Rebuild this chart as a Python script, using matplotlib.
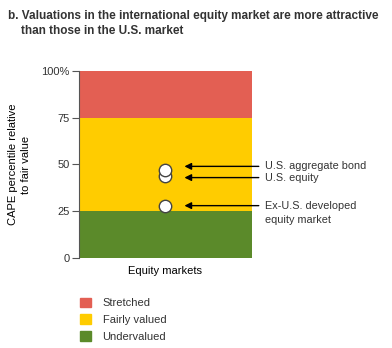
import matplotlib.pyplot as plt
from matplotlib.patches import Patch

plt.rcParams['font.family'] = ['Liberation Sans', 'DejaVu Sans']
plt.rcParams['text.color'] = '#333333'

# Valuation bands (percentile ranges)
bands = ['Undervalued', 'Fairly valued', 'Stretched']
band_lo = [0, 25, 75]
band_hi = [25, 75, 100]
band_colors = ['#5B8A2A', '#FFCC00', '#E35F53']

# Market CAPE percentiles
markets = ['U.S. equity', 'U.S. aggregate bond', 'Ex-U.S. developed\nequity market']
percentiles = [44, 47, 28]
label_y = [43, 49, 28]

yticks = [0, 25, 50, 75, 100]
ytick_labels = ['0', '25', '50', '75', '100%']

fig = plt.figure(figsize=(3.92, 3.48), dpi=100)
ax = fig.add_axes([0.2015, 0.2586, 0.441, 0.5374])

for lo, hi, c in zip(band_lo, band_hi, band_colors):
    ax.axhspan(lo, hi, color=c, lw=0)

ax.scatter([0.5] * len(percentiles), percentiles, s=80, facecolor='white',
           edgecolor='#444444', linewidth=1.0, zorder=3)

for name, ly in zip(markets, label_y):
    ax.annotate('', xy=(0.61, ly), xycoords='data', xytext=(1.04, ly),
                textcoords=('axes fraction', 'data'),
                arrowprops=dict(arrowstyle='-|>', color='black', lw=1.0,
                                mutation_scale=10, shrinkA=0, shrinkB=0),
                annotation_clip=False)
    ax.text(1.075, ly + (2.5 if '\n' in name else 0), name,
            transform=ax.get_yaxis_transform(), fontsize=7.8,
            va='top' if '\n' in name else 'center', ha='left',
            linespacing=1.5, clip_on=False)

ax.set_xlim(0, 1)
ax.set_ylim(0, 100)
ax.set_xticks([])
ax.set_yticks(yticks)
ax.set_yticklabels(ytick_labels, fontsize=8, color='#333333')
ax.tick_params(axis='y', length=5, width=0.8, color='#555555', pad=1.5)
for s in ['top', 'right', 'bottom']:
    ax.spines[s].set_visible(False)
ax.spines['left'].set_color('#555555')
ax.spines['left'].set_linewidth(0.8)

ax.set_xlabel('Equity markets', fontsize=8, labelpad=6)
ax.set_ylabel('CAPE percentile relative\nto fair value', fontsize=8,
              linespacing=1.3)
ax.yaxis.set_label_coords(-0.28, 0.5)

fig.text(0.02, 0.972, 'b. Valuations in the international equity market are more attractive\n'
         '    than those in the U.S. market', fontsize=8.5, weight='bold',
         va='top', ha='left', linespacing=1.4)

handles = [Patch(color=c) for c in band_colors[::-1]]
fig.legend(handles, bands[::-1], loc='upper left', bbox_to_anchor=(0.205, 0.145),
           frameon=False, fontsize=8, handlelength=1.0, handleheight=1.0,
           handletextpad=1.0, labelspacing=0.55, borderpad=0, borderaxespad=0)

fig.savefig('out.png', dpi=100)
